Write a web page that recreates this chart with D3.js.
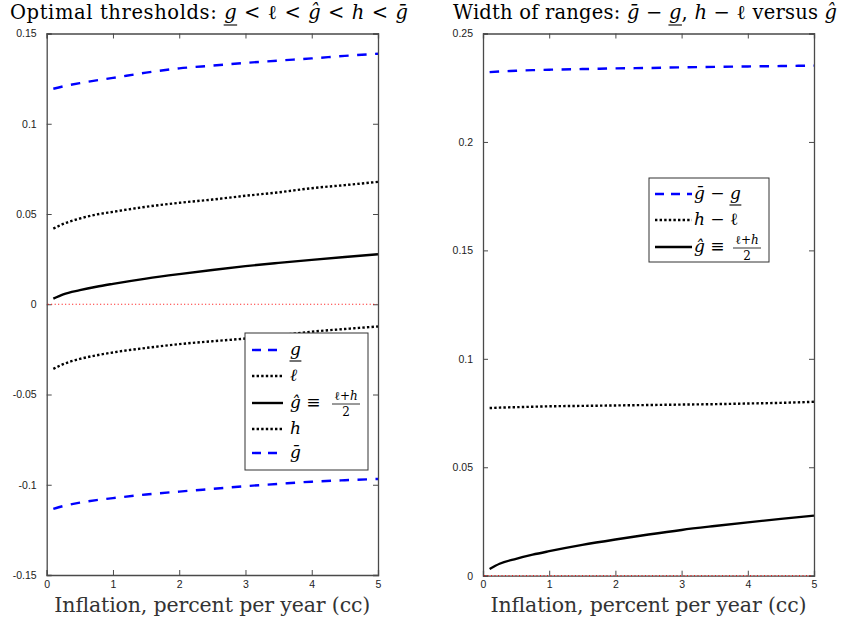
<!DOCTYPE html>
<html><head><meta charset="utf-8">
<script src="https://cdn.jsdelivr.net/npm/d3@7"></script>
<style>body{margin:0;background:#fff}</style>
</head><body>
<svg id="c" width="844" height="627"></svg>
<script>
// ---- data ----
const inflation = [0.1,0.25,0.5,0.75,1,1.5,2,2.5,3,3.5,4,4.5,5];
const gLow   = [-0.1134,-0.1118,-0.1099,-0.1085,-0.1074,-0.1054,-0.1038,-0.1023,-0.1008,-0.0995,-0.0983,-0.0975,-0.0968];
const ell    = [-0.0358,-0.0332,-0.0303,-0.0283,-0.0267,-0.0242,-0.0221,-0.0205,-0.0190,-0.0172,-0.0152,-0.0137,-0.0123];
const gHat   = [0.0031,0.0055,0.0078,0.0097,0.0113,0.0142,0.0167,0.0190,0.0211,0.0229,0.0246,0.0262,0.0277];
const hUp    = [0.0419,0.0445,0.0475,0.0497,0.0512,0.0540,0.0562,0.0580,0.0601,0.0620,0.0643,0.0660,0.0678];
const gBar   = [0.1194,0.1207,0.1225,0.1240,0.1254,0.1283,0.1307,0.1322,0.1337,0.1350,0.1362,0.1376,0.1388];
const widthG = [0.2322,0.2325,0.2328,0.2331,0.2333,0.2336,0.2339,0.2341,0.2344,0.2346,0.2348,0.2350,0.2352];
const widthHL= [0.0773,0.0775,0.0777,0.0779,0.0781,0.0783,0.0785,0.0787,0.0789,0.0791,0.0794,0.0797,0.0802];
const xTicks = [0,1,2,3,4,5];
const yTicksLeft  = [-0.15,-0.1,-0.05,0,0.05,0.1,0.15];
const yTickLabelsLeft = ["-0.15","-0.1","-0.05","0","0.05","0.1","0.15"];
const yTicksRight = [0,0.05,0.1,0.15,0.2,0.25];
const yTickLabelsRight = ["0","0.05","0.1","0.15","0.2","0.25"];

const svg = d3.select("#c");
const SERIF = "'DejaVu Serif','Liberation Serif',serif";
const SANS = "'Liberation Sans',Arial,sans-serif";
const AX = "#4a4a4a";

const styles = {
  dash: {stroke:"#0000ff", dash:"9.5,8.5", w:2.4},
  dot:  {stroke:"#000", dash:"2.4,2.2", w:2.4},
  solid:{stroke:"#000", dash:null, w:2.4}
};

function underlineTspans(g, textSel, off){
  textSel.selectAll("tspan").each(function(){
    if(!d3.select(this).attr("data-u")) return;
    const n = this;
    const s = n.getStartPositionOfChar(0);
    const e = n.getEndPositionOfChar(n.getNumberOfChars()-1);
    g.append("line").attr("x1",s.x-0.5).attr("x2",e.x+0.5).attr("y1",s.y+off).attr("y2",s.y+off)
      .attr("stroke","#000").attr("stroke-width",1.1);
  });
}

function panel(x0,x1,y0,y1,yDomain,yTicks,yLabels,series,titleParts,titleX,titleW){
  const x = d3.scaleLinear().domain([0,5]).range([x0,x1]);
  const y = d3.scaleLinear().domain(yDomain).range([y1,y0]);
  const g = svg.append("g");
  const line = d3.line().x((d,i)=>x(inflation[i])).y(d=>y(d)).curve(d3.curveMonotoneX);
  series.forEach(s=>{
    const st = styles[s.style];
    g.append("path").attr("d",line(s.values)).attr("fill","none")
      .attr("stroke",st.stroke).attr("stroke-width",st.w)
      .attr("stroke-dasharray",st.dash);
  });
  const tl = 5;
  const bottom = g.append("g").attr("transform",`translate(0,${y1})`)
    .call(d3.axisBottom(x).tickValues(xTicks).tickSize(-tl).tickPadding(9).tickFormat(d3.format("d")));
  const top = g.append("g").attr("transform",`translate(0,${y0})`)
    .call(d3.axisTop(x).tickValues(xTicks).tickSize(-tl).tickFormat(""));
  const left = g.append("g").attr("transform",`translate(${x0},0)`)
    .call(d3.axisLeft(y).tickValues(yTicks).tickSize(-tl).tickPadding(10).tickFormat((d,i)=>yLabels[i]));
  const right = g.append("g").attr("transform",`translate(${x1},0)`)
    .call(d3.axisRight(y).tickValues(yTicks).tickSize(-tl).tickFormat(""));
  [bottom,top,left,right].forEach(a=>{
    a.select(".domain").attr("stroke",AX).attr("stroke-width",1.3);
    a.selectAll(".tick line").attr("stroke",AX).attr("stroke-width",1);
    a.selectAll("text").attr("font-family",SANS).attr("font-size",10.5).attr("fill","#222");
  });
  bottom.selectAll("text").attr("dy","0.35em");
  // zero reference line (drawn over the axes, as in the original)
  g.append("line").attr("x1",x0+1).attr("x2",x1-1).attr("y1",y(0)).attr("y2",y(0))
    .attr("stroke","#ff0000").attr("stroke-width",1).attr("stroke-dasharray","1,2.5");
  g.append("text").attr("x",(x0+x1)/2).attr("y",612).attr("text-anchor","middle")
    .attr("font-family",SERIF).attr("font-size",20.5).attr("fill","#333")
    .attr("textLength",316).attr("lengthAdjust","spacing")
    .text("Inflation, percent per year (cc)");
  const t = g.append("text").attr("x",titleX).attr("y",19).attr("text-anchor","middle")
    .attr("font-family",SERIF).attr("font-size",19.5).attr("fill","#000")
    .attr("textLength",titleW).attr("lengthAdjust","spacing");
  titleParts.forEach(p=>{
    const ts = t.append("tspan").text(p.t);
    if(p.i) ts.attr("font-style","italic");
    if(p.u) ts.attr("data-u",1);
  });
  underlineTspans(g,t,6);
  return {x,y};
}

panel(46.7,378,33.5,575,[-0.15,0.15],yTicksLeft,yTickLabelsLeft,[
  {values:gLow,style:"dash"},{values:ell,style:"dot"},{values:gHat,style:"solid"},
  {values:hUp,style:"dot"},{values:gBar,style:"dash"}],
  [{t:"Optimal thresholds: "},{t:"g",i:1,u:1},{t:" < ℓ < "},{t:"ĝ",i:1},{t:" < "},{t:"h",i:1},{t:" < "},{t:"ḡ",i:1}],209,398);

panel(483,814,33.5,575.7,[0,0.25],yTicksRight,yTickLabelsRight,[
  {values:widthG,style:"dash"},{values:widthHL,style:"dot"},{values:gHat,style:"solid"}],
  [{t:"Width of ranges: "},{t:"ḡ",i:1},{t:" − "},{t:"g",i:1,u:1},{t:", "},{t:"h",i:1},{t:" − ℓ versus "},{t:"ĝ",i:1}],645,384);

// ---- legends ----
function legend(bx,by,bw,bh,items,lx0,lx1,tx){
  const g = svg.append("g");
  g.append("rect").attr("x",bx).attr("y",by).attr("width",bw).attr("height",bh)
    .attr("fill","#fff").attr("stroke","#333").attr("stroke-width",1);
  items.forEach(it=>{
    const st = styles[it.style];
    g.append("line").attr("x1",lx0).attr("x2",lx1).attr("y1",it.y).attr("y2",it.y)
      .attr("stroke",st.stroke).attr("stroke-width",st.w)
      .attr("stroke-dasharray",it.style==="dash"?"9,7":st.dash);
    const t = g.append("text").attr("x",tx).attr("y",it.y+5)
      .attr("font-family",SERIF).attr("font-size",17).attr("fill","#000");
    it.parts.forEach(p=>{
      const ts=t.append("tspan").text(p.t);
      if(p.i) ts.attr("font-style","italic");
      if(p.u) ts.attr("data-u",1);
    });
    underlineTspans(g,t,6);
    if(it.frac){
      const fx = it.frac;
      g.append("text").attr("x",fx).attr("y",it.y-3).attr("text-anchor","middle")
        .attr("font-family",SERIF).attr("font-size",12).text("ℓ+")
        .append("tspan").attr("font-style","italic").text("h");
      g.append("line").attr("x1",fx-14).attr("x2",fx+14).attr("y1",it.y+1).attr("y2",it.y+1)
        .attr("stroke","#000").attr("stroke-width",0.8);
      g.append("text").attr("x",fx).attr("y",it.y+12.5).attr("text-anchor","middle")
        .attr("font-family",SERIF).attr("font-size",12).text("2");
    }
  });
}
legend(245,333,123,137,[
  {y:350,style:"dash",parts:[{t:"g",i:1,u:1}]},
  {y:376,style:"dot",parts:[{t:"ℓ",i:1}]},
  {y:403,style:"solid",parts:[{t:"ĝ",i:1},{t:" ≡"}],frac:346},
  {y:429,style:"dot",parts:[{t:"h",i:1}]},
  {y:453,style:"dash",parts:[{t:"ḡ",i:1}]}],
  252,283,290);
legend(649,178,120,84,[
  {y:194,style:"dash",parts:[{t:"ḡ",i:1},{t:" − "},{t:"g",i:1,u:1}]},
  {y:220,style:"dot",parts:[{t:"h",i:1},{t:" − ℓ"}]},
  {y:247,style:"solid",parts:[{t:"ĝ",i:1},{t:" ≡"}],frac:747}],
  655,692,694);
</script>
</body></html>
